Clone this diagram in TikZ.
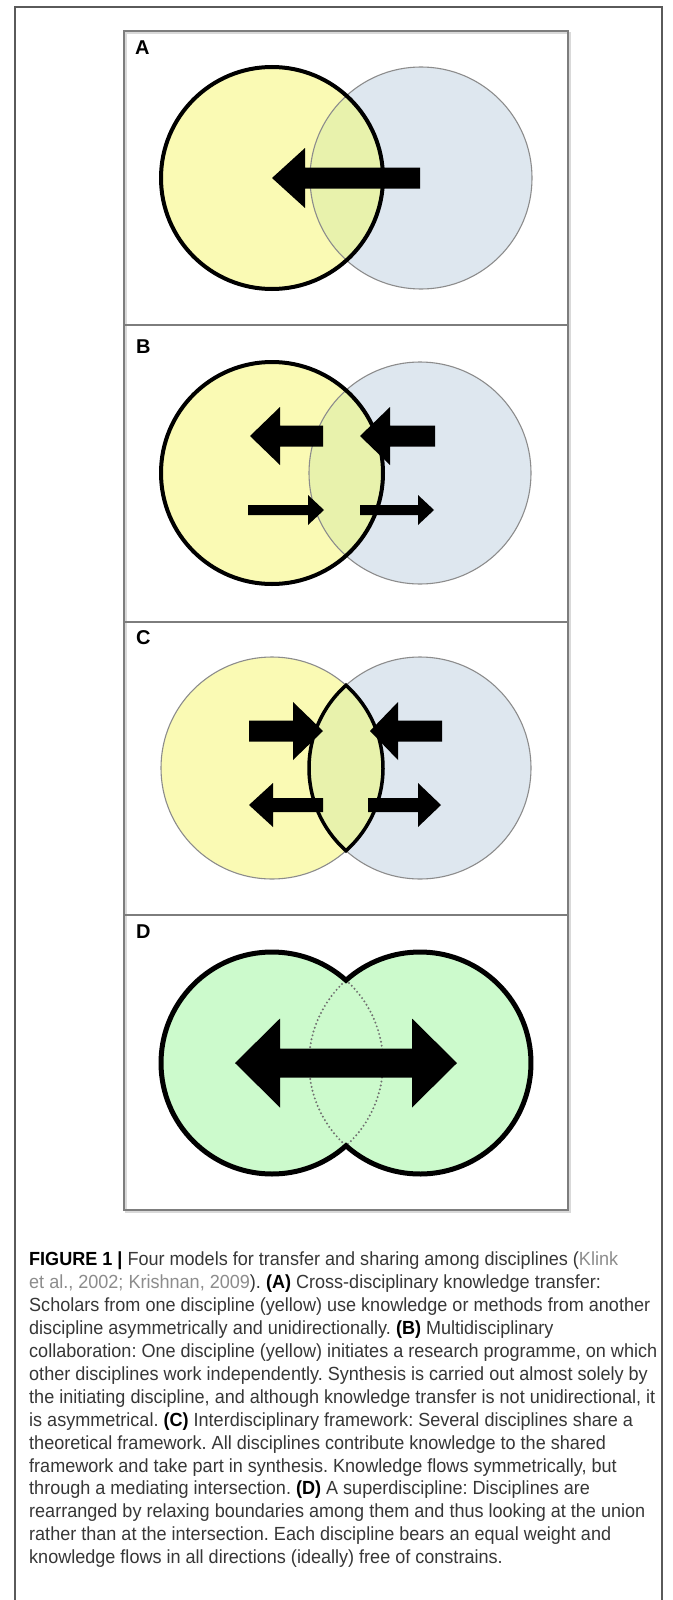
\documentclass[tikz,border=0pt]{standalone}
\usepackage{fontspec}
\setmainfont{Liberation Sans}
\newfontfamily\capfont[FakeStretch=0.95]{Liberation Sans}
\definecolor{yel}{RGB}{250,250,180}
\definecolor{blu}{RGB}{222,231,239}
\definecolor{mix}{RGB}{232,242,172}
\definecolor{grn}{RGB}{204,250,204}
\definecolor{txt}{RGB}{55,55,55}
\definecolor{citec}{RGB}{140,140,140}
\definecolor{framec}{RGB}{90,90,90}
\definecolor{boxc}{RGB}{125,125,125}
\definecolor{rimc}{RGB}{140,140,140}
% block arrow: tail x, head-back x, tip x, y, shaft half width, head half width
\newcommand\blkarrow[6]{\fill[black] (#1,#4-#5) -- (#2,#4-#5) -- (#2,#4-#6) -- (#3,#4) -- (#2,#4+#6) -- (#2,#4+#5) -- (#1,#4+#5) -- cycle;}
\tikzset{
  thinrim/.style={draw=rimc, line width=1.1pt},
  thickrim/.style={draw=black, line width=4pt},
  panellabel/.style={anchor=west, inner sep=0pt, font=\bfseries\fontsize{20}{24}\selectfont},
  boxline/.style={draw=boxc, line width=2.2pt}
}
\begin{document}
\begin{tikzpicture}[x=1pt,y=-1pt]
\useasboundingbox (0,0) rectangle (672,1600);
\fill[white] (0,0) rectangle (672,1600);
% outer frame (open at bottom)
\draw[framec, line width=1.2pt] (15,1601) -- (15,7) -- (662,7) -- (662,1601);
% inner figure box
\draw[gray!30, line width=2pt] (126,33) rectangle (570,1212);
\draw[boxline] (124,31) rectangle (568,1210);
\draw[boxline] (124,325) -- (568,325);
\draw[boxline] (124,622) -- (568,622);
\draw[boxline] (124,915) -- (568,915);
% labels
\node[panellabel] (labA) at (135,48) {A};
\node[panellabel] (labB) at (136,347) {B};
\node[panellabel] (labC) at (136,638) {C};
\node[panellabel] (labD) at (136,932) {D};
% ---------- Panel A ----------
\fill[yel] (272,178) circle[radius=111pt];
\fill[blu] (421,178) circle[radius=111pt];
\begin{scope}
  \clip (272,178) circle[radius=111pt];
  \fill[mix] (421,178) circle[radius=111pt];
\end{scope}
\draw[thinrim] (421,178) circle[radius=111pt];
\draw[thickrim] (272,178) circle[radius=111pt];
\blkarrow{420}{305}{272}{178}{10.5}{30}
% ---------- Panel B ----------
\fill[yel] (272,473) circle[radius=111pt];
\fill[blu] (420,473) circle[radius=111pt];
\begin{scope}
  \clip (272,473) circle[radius=111pt];
  \fill[mix] (420,473) circle[radius=111pt];
\end{scope}
\draw[thinrim] (420,473) circle[radius=111pt];
\draw[thickrim] (272,473) circle[radius=111pt];
\blkarrow{323}{280}{250}{436}{10.5}{29}
\blkarrow{435}{390}{360}{436}{10.5}{29}
\blkarrow{248}{308}{324}{510}{5}{15}
\blkarrow{360}{418}{434}{510}{5}{15}
% ---------- Panel C ----------
\fill[yel] (272,768) circle[radius=111pt];
\fill[blu] (420,768) circle[radius=111pt];
\begin{scope}
  \clip (272,768) circle[radius=111pt];
  \fill[mix] (420,768) circle[radius=111pt];
\end{scope}
\draw[thinrim] (272,768) circle[radius=111pt];
\draw[thinrim] (420,768) circle[radius=111pt];
\blkarrow{249}{293}{323}{731}{10.5}{29}
\blkarrow{442}{398}{370}{731}{10.5}{29}
\blkarrow{323}{273}{249}{805}{7}{22}
\blkarrow{368}{418}{441}{805}{7}{22}
\draw[black, line width=3.5pt, line join=miter] (346,685.27) arc[start angle=48.19, end angle=-48.19, radius=111pt]
  arc[start angle=228.19, end angle=131.81, radius=111pt] -- cycle;
% ---------- Panel D ----------
\fill[grn] (272,1063) circle[radius=111pt];
\fill[grn] (420,1063) circle[radius=111pt];
\draw[rimc!80!black, line width=2.2pt, line cap=round, dash pattern=on 0pt off 4pt] (346,980.27) arc[start angle=48.19, end angle=-48.19, radius=111pt]
  arc[start angle=228.19, end angle=131.81, radius=111pt];
\fill[black] (235,1063) -- (280,1063-44.5) -- (280,1063-14.5) -- (412,1063-14.5) -- (412,1063-44.5) -- (457,1063)
  -- (412,1063+44.5) -- (412,1063+14.5) -- (280,1063+14.5) -- (280,1063+44.5) -- cycle;
\draw[black, line width=5pt, line join=miter] (346,980.27) arc[start angle=48.19, end angle=311.81, radius=111pt]
  arc[start angle=228.19, end angle=491.81, radius=111pt] -- cycle;
% ---------- Caption ----------
\node[anchor=north west, inner sep=0pt, align=left, text=txt,
      font=\capfont\fontsize{19}{22.9}\selectfont\frenchspacing] (cap) at (29,1252)
{\textbf{\color{black}FIGURE 1 |} Four models for transfer and sharing among disciplines ({\color{citec}Klink}\\
{\color{citec}et al., 2002; Krishnan, 2009}). \textbf{\color{black}(A)} Cross-disciplinary knowledge transfer:\\
Scholars from one discipline (yellow) use knowledge or methods from another\\
discipline asymmetrically and unidirectionally. \textbf{\color{black}(B)} Multidisciplinary\\
collaboration: One discipline (yellow) initiates a research programme, on which\\
other disciplines work independently. Synthesis is carried out almost solely by\\
the initiating discipline, and although knowledge transfer is not unidirectional, it\\
is asymmetrical. \textbf{\color{black}(C)} Interdisciplinary framework: Several disciplines share a\\
theoretical framework. All disciplines contribute knowledge to the shared\\
framework and take part in synthesis. Knowledge flows symmetrically, but\\
through a mediating intersection. \textbf{\color{black}(D)} A superdiscipline: Disciplines are\\
rearranged by relaxing boundaries among them and thus looking at the union\\
rather than at the intersection. Each discipline bears an equal weight and\\
knowledge flows in all directions (ideally) free of constrains.};
\end{tikzpicture}
\end{document}
